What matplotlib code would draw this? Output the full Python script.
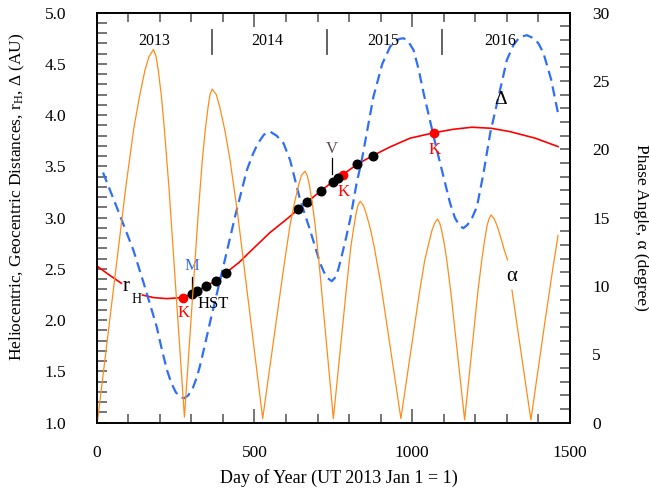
import numpy as np
import matplotlib.pyplot as plt
from matplotlib.ticker import MultipleLocator, FormatStrFormatter

plt.rcParams["font.family"] = ["Liberation Serif", "DejaVu Serif"]
plt.rcParams["mathtext.fontset"] = "custom"
plt.rcParams["mathtext.rm"] = "Liberation Serif"
plt.rcParams["mathtext.it"] = "Liberation Serif:italic"

# heliocentric distance r_H (AU)
rh_day = np.array([0, 40, 78, 145, 180, 222, 272, 301, 319, 347, 378, 410, 450, 486,
                   549, 600, 639, 668, 710, 748, 766, 780, 826, 875, 930, 993, 1070,
                   1130, 1189, 1250, 1310, 1390, 1462])
rh_au = np.array([2.53, 2.44, 2.36, 2.245, 2.22, 2.21, 2.22, 2.256, 2.285, 2.334, 2.385,
                  2.463, 2.56, 2.668, 2.854, 2.98, 3.082, 3.155, 3.26, 3.351, 3.39, 3.42,
                  3.521, 3.605, 3.69, 3.775, 3.829, 3.862, 3.882, 3.872, 3.839, 3.775, 3.693])

# geocentric distance Delta (AU)
dl_day = np.array([20, 60, 116, 150, 190, 206, 222, 236, 250, 263, 277, 290, 305, 317,
                   327, 343, 360, 401, 440, 476, 495, 510, 530, 549, 570, 592, 613, 645,
                   676, 708, 720, 732, 745, 757, 766, 776, 790, 803, 824, 840, 877, 905,
                   930, 945, 960, 972, 985, 1004, 1020, 1036, 1078, 1120, 1135, 1150,
                   1162, 1175, 1190, 1205, 1225, 1247, 1300, 1320, 1340, 1363, 1385,
                   1400, 1416, 1440, 1462])
dl_au = np.array([3.44, 3.13, 2.685, 2.35, 1.937, 1.72, 1.52, 1.39, 1.30, 1.25, 1.238,
                  1.265, 1.34, 1.44, 1.55, 1.76, 1.99, 2.52, 3.03, 3.465, 3.62, 3.72,
                  3.81, 3.84, 3.80, 3.726, 3.56, 3.17, 2.88, 2.555, 2.47, 2.41, 2.38,
                  2.42, 2.50, 2.62, 2.80, 2.98, 3.34, 3.56, 4.18, 4.50, 4.668, 4.72,
                  4.745, 4.75, 4.73, 4.636, 4.45, 4.214, 3.66, 3.14, 3.00, 2.92, 2.897,
                  2.93, 3.00, 3.107, 3.42, 3.823, 4.539, 4.68, 4.76, 4.78, 4.75, 4.70,
                  4.604, 4.35, 4.018])

# phase angle alpha (degree)
al_day = np.array([3, 92, 118, 136, 153, 166, 180, 188, 195, 205, 214, 229, 278,
                   322, 335, 344, 353, 359, 366, 379, 390, 406, 422, 446, 526,
                   593, 613, 627, 640, 649, 660, 667, 674, 683, 692, 705, 750,
                   793, 805, 814, 822, 828, 835, 845, 854, 867, 880, 900, 964,
                   1022, 1039, 1051, 1063, 1071, 1080, 1087, 1093, 1102, 1110, 1123, 1166,
                   1208, 1221, 1229, 1237, 1243, 1250, 1260, 1269, 1281, 1292, 1302,
                   1316, 1376, 1420, 1445, 1462])
al_deg = np.array([0.2, 17.2, 21.6, 23.9, 25.8, 26.8, 27.3, 26.8, 25.8, 23.9, 21.6, 17.2, 0.4,
                   15.4, 19.3, 21.4, 23.1, 24.0, 24.4, 24.0, 23.1, 21.4, 19.3, 15.4, 0.3,
                   11.4, 14.5, 16.1, 17.4, 18.1, 18.4, 18.1, 17.4, 16.1, 14.5, 11.6, 0.3,
                   10.2, 12.8, 14.2, 15.3, 15.9, 16.2, 15.9, 15.3, 14.2, 12.8, 10.2, 0.3,
                   9.4, 11.8, 13.0, 14.1, 14.6, 14.9, 14.6, 14.1, 13.0, 11.8, 9.4, 0.2,
                   9.6, 12.0, 13.3, 14.4, 14.9, 15.2, 14.9, 14.4, 13.5, 12.6, 11.9,
                   9.7, 0.2, 7.3, 11.2, 13.7])

# observations
hst_day = [301, 319, 347, 378, 410, 639, 668, 710, 748, 766, 826, 875]
hst_au = [2.256, 2.285, 2.334, 2.385, 2.463, 3.082, 3.155, 3.26, 3.351, 3.39, 3.521, 3.605]
keck_day = [272, 780, 1070]
keck_au = [2.22, 3.42, 3.829]

years = ["2013", "2014", "2015", "2016"]
year_mid = [182, 540, 909, 1279]
year_edge = [365, 730, 1095]

fig = plt.figure(figsize=(6.49, 4.92), dpi=100)
ax = fig.add_axes([0.149, 0.141, 0.7293, 0.8333])
ax2 = ax.twinx()

red = "#ff0000"
blue = "#2f6ff5"
orange = "#ff8c1a"

ax.plot(rh_day[rh_day <= 78], rh_au[rh_day <= 78], color=red, lw=1.2, zorder=2)
ax.plot(rh_day[rh_day >= 145], rh_au[rh_day >= 145], color=red, lw=1.2, zorder=2)
ax.plot(dl_day, dl_au, color=blue, lw=1.6, dashes=(4.6, 2.6), zorder=3)
ax.plot(keck_day, keck_au, "o", color=red, ms=6, zorder=4)
ax.plot(hst_day, hst_au, "o", color="black", ms=6.2, zorder=5)

ax2.plot(al_day[al_day <= 1302], al_deg[al_day <= 1302], color=orange, lw=0.9)
ax2.plot(al_day[al_day >= 1316], al_deg[al_day >= 1316], color=orange, lw=0.9)

# year bar
for d in year_edge:
    ax.plot([d, d], [4.60, 4.83], color="#555555", lw=1.3)
for y, d in zip(years, year_mid):
    ax.text(d, 4.72, y, ha="center", va="center", fontsize=11.5)

# labels
ax.text(93, 2.33, "r", ha="center", va="center", fontsize=15)
ax.text(125, 2.205, "H", ha="center", va="center", fontsize=10)
ax.text(1281, 4.15, "\u0394", ha="center", va="center", fontsize=14)
ax2.text(1316, 10.7, "\u03b1", ha="center", va="center", fontsize=15)

ax.text(301, 2.53, "M", color=blue, ha="center", va="center", fontsize=12)
ax.plot([301, 301], [2.29, 2.42], color="black", lw=0.9)
ax.text(275, 2.07, "K", color=red, ha="center", va="center", fontsize=12)
ax.text(370, 2.16, "HST", ha="center", va="center", fontsize=12)
ax.text(745, 3.67, "V", color="#5a4a4a", ha="center", va="center", fontsize=12)
ax.plot([745, 745], [3.43, 3.58], color="black", lw=0.9)
ax.text(782, 3.25, "K", color=red, ha="center", va="center", fontsize=12)
ax.text(1072, 3.66, "K", color=red, ha="center", va="center", fontsize=12)

ax.set_xlim(0, 1500)
ax.set_ylim(1.0, 5.0)
ax2.set_ylim(0, 30)

ax.xaxis.set_major_locator(MultipleLocator(500))
ax.xaxis.set_minor_locator(MultipleLocator(100))
ax.yaxis.set_major_locator(MultipleLocator(0.5))
ax.yaxis.set_minor_locator(MultipleLocator(0.1))
ax.yaxis.set_major_formatter(FormatStrFormatter("%.1f"))
ax2.yaxis.set_major_locator(MultipleLocator(5))
ax2.yaxis.set_minor_locator(MultipleLocator(1))

tc = "#505050"
ax.tick_params(axis="x", which="major", direction="in", top=True, length=10, width=1.1,
               color=tc, pad=16, labelsize=12.5)
ax.tick_params(axis="x", which="minor", direction="in", top=True, length=6.5, width=1.1,
               color=tc)
ax.tick_params(axis="y", which="major", direction="in", right=False, length=7.5, width=1.1,
               color=tc, pad=22, labelsize=12.5)
ax.tick_params(axis="y", which="minor", direction="in", right=False, length=7, width=1.1,
               color=tc)
ax2.tick_params(axis="y", which="major", direction="in", length=7.5, width=1.1,
                color=tc, pad=16, labelsize=12.5)
ax2.tick_params(axis="y", which="minor", direction="in", length=7, width=1.1, color=tc)

for a in (ax, ax2):
    for s in a.spines.values():
        s.set_linewidth(1.2)

fig.text(339 / 649, 1 - 478 / 492, "Day of Year (UT 2013 Jan 1 = 1)",
         ha="center", va="center", fontsize=13)
fig.text(17 / 649, 1 - 197 / 492,
         r"Heliocentric, Geocentric Distances, $\mathrm{r_H}$, $\Delta$ (AU)",
         ha="center", va="center", rotation=90, fontsize=12.5)
fig.text(641 / 649, 1 - 227 / 492, "Phase Angle, \u03b1 (degree)",
         ha="center", va="center", rotation=-90, fontsize=12.5)

fig.savefig("out.png", dpi=100)
